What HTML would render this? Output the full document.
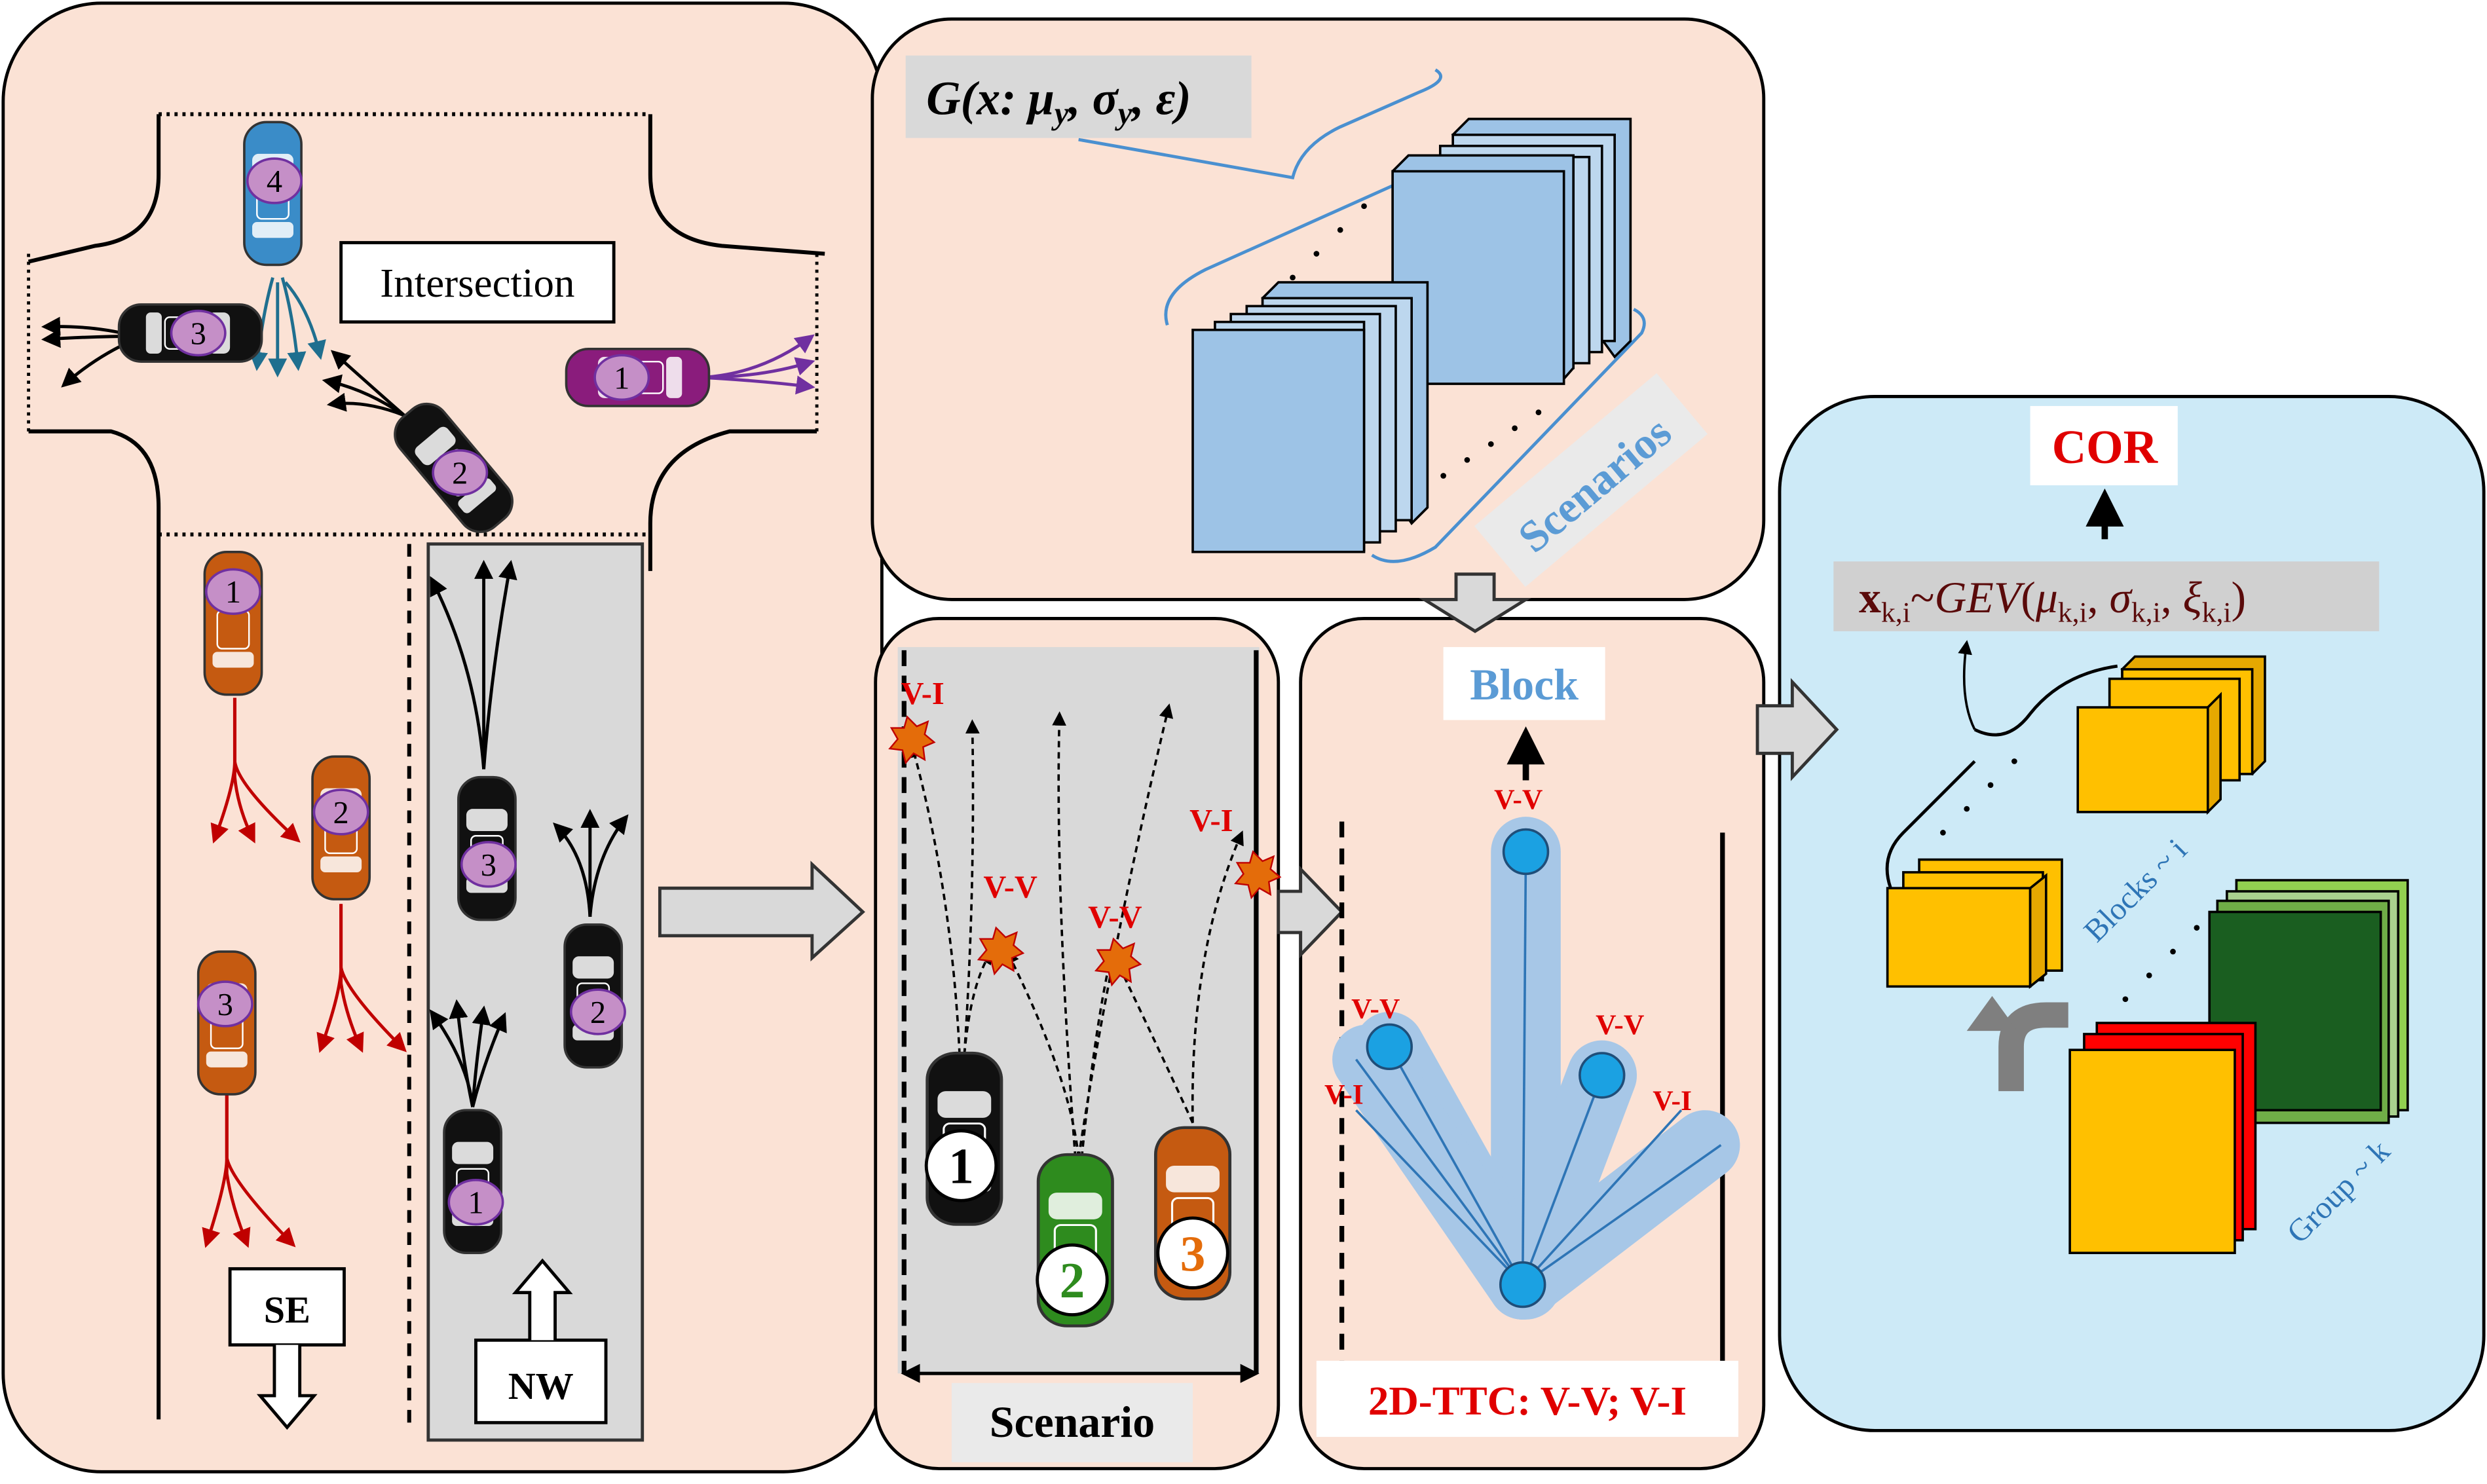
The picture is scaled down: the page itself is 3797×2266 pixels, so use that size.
<!DOCTYPE html>
<html><head><meta charset="utf-8"><style>
html,body{margin:0;padding:0;background:#fff}
svg{display:block}
text{font-family:"Liberation Serif",serif}
</style></head><body>
<svg width="3797" height="2266" viewBox="0 0 1568 935.7" preserveAspectRatio="none" xmlns="http://www.w3.org/2000/svg">
<defs>
<marker id="ab" markerWidth="6" markerHeight="6" refX="5" refY="3" orient="auto"><path d="M0,0L6,3L0,6z" fill="#000"/></marker>
<marker id="ar" markerWidth="6" markerHeight="6" refX="5" refY="3" orient="auto"><path d="M0,0L6,3L0,6z" fill="#c00000"/></marker>
<marker id="at" markerWidth="6" markerHeight="6" refX="5" refY="3" orient="auto"><path d="M0,0L6,3L0,6z" fill="#1f6f8f"/></marker>
<marker id="ap" markerWidth="6" markerHeight="6" refX="5" refY="3" orient="auto"><path d="M0,0L6,3L0,6z" fill="#7030a0"/></marker>
<g id="carv"><rect x="-18" y="-45" width="36" height="90" rx="14" fill="currentColor" stroke="#333" stroke-width="1.5"/><rect x="-13" y="-25" width="26" height="14" rx="4" fill="#fff" opacity=".85"/><rect x="-13" y="18" width="26" height="10" rx="3" fill="#fff" opacity=".85"/><rect x="-10" y="-8" width="20" height="24" rx="3" fill="currentColor" stroke="#fff" stroke-width="1"/></g>
</defs>

<!-- Panels -->
<rect x="2" y="2" width="554" height="926" rx="62" fill="#fbe2d5" stroke="#000" stroke-width="2"/>
<rect x="550" y="12" width="562" height="366" rx="50" fill="#fbe2d5" stroke="#000" stroke-width="2"/>
<rect x="552" y="390" width="254" height="536" rx="40" fill="#fbe2d5" stroke="#000" stroke-width="2"/>
<rect x="820" y="390" width="292" height="536" rx="40" fill="#fbe2d5" stroke="#000" stroke-width="2"/>
<rect x="1122" y="250" width="444" height="652" rx="60" fill="#cdeaf7" stroke="#000" stroke-width="2"/>

<!-- Left panel roads -->
<g stroke="#000" stroke-width="2.5" fill="none">
<path d="M100,72 H410" stroke-dasharray="2,3"/>
<path d="M100,72 V110 Q100,150 60,155 L18,165"/>
<path d="M410,72 V110 Q410,150 455,155 L520,160"/>
<path d="M18,160 V272" stroke-dasharray="2,3" stroke-width="2"/>
<path d="M515,160 V272" stroke-dasharray="2,3" stroke-width="2"/>
<path d="M18,272 H70 Q100,280 100,320 V895"/>
<path d="M515,272 H460 Q410,285 410,330 V360"/>
<path d="M100,337 H410" stroke-dasharray="2,3"/>
<path d="M258,343 V900" stroke-dasharray="8,6"/>
</g>
<rect x="270" y="343" width="135" height="565" fill="#d9d9d9" stroke="#333" stroke-width="2"/>

<rect x="215" y="153" width="172" height="50" fill="#fff" stroke="#000" stroke-width="2"/>
<text x="301" y="187" font-size="26" text-anchor="middle">Intersection</text>

<!-- trajectories -->
<g fill="none" stroke-width="2">
<g stroke="#1f6f8f" marker-end="url(#at)"><path d="M172,175 Q165,200 162,232"/><path d="M175,178 V236"/><path d="M178,175 Q185,200 188,232"/><path d="M180,178 Q195,195 202,225"/></g>
<g stroke="#7030a0" marker-end="url(#ap)"><path d="M442,238 Q480,236 512,212"/><path d="M442,238 Q480,238 512,228"/><path d="M442,238 Q480,240 512,244"/></g>
<g stroke="#000" marker-end="url(#ab)"><path d="M85,212 Q60,205 28,206"/><path d="M85,212 Q60,212 28,214"/><path d="M85,214 Q60,225 40,243"/>
<path d="M255,262 Q230,240 210,222"/><path d="M255,262 Q230,245 205,240"/><path d="M255,262 Q230,252 208,255"/>
<path d="M305,485 Q300,420 272,365"/><path d="M305,485 V355"/><path d="M305,485 Q310,420 322,355"/>
<path d="M372,578 Q370,540 350,520"/><path d="M372,578 V512"/><path d="M372,578 Q375,540 395,515"/>
<path d="M298,698 Q295,670 272,638"/><path d="M298,698 Q292,670 288,632"/><path d="M298,698 Q300,670 305,636"/><path d="M298,698 Q305,670 318,640"/></g>
<g stroke="#c00000" marker-end="url(#ar)"><path d="M148,440 V480 Q148,495 135,530"/><path d="M148,440 V490 Q150,510 160,530"/><path d="M148,440 V480 Q150,495 188,530"/>
<path d="M215,570 V610 Q215,625 202,662"/><path d="M215,570 V620 Q218,640 228,662"/><path d="M215,570 V610 Q218,625 255,662"/>
<path d="M143,690 V730 Q143,745 130,785"/><path d="M143,690 V740 Q146,760 156,785"/><path d="M143,690 V730 Q146,745 185,785"/></g>
</g>

<!-- cars left -->
<g color="#3a8cc8"><use href="#carv" x="172" y="122"/></g>
<g color="#111"><use href="#carv" transform="translate(120,210) rotate(90)"/></g>
<g color="#8a1c7c"><use href="#carv" transform="translate(402,238) rotate(-90)"/></g>
<g color="#111"><use href="#carv" transform="translate(286,295) rotate(-40)"/></g>
<g color="#c55a11"><use href="#carv" x="147" y="393"/><use href="#carv" x="215" y="522"/><use href="#carv" x="143" y="645"/></g>
<g color="#111"><use href="#carv" x="307" y="535"/><use href="#carv" x="374" y="628"/><use href="#carv" x="298" y="745"/></g>
<g fill="#c58fc7" stroke="#7030a0" stroke-width="1.5">
<ellipse cx="173" cy="114" rx="17" ry="14"/><ellipse cx="125" cy="210" rx="17" ry="14"/><ellipse cx="392" cy="238" rx="17" ry="14"/><ellipse cx="290" cy="298" rx="17" ry="14"/>
<ellipse cx="147" cy="373" rx="17" ry="14"/><ellipse cx="215" cy="512" rx="17" ry="14"/><ellipse cx="142" cy="633" rx="17" ry="14"/>
<ellipse cx="308" cy="545" rx="17" ry="14"/><ellipse cx="377" cy="638" rx="17" ry="14"/><ellipse cx="300" cy="758" rx="17" ry="14"/></g>
<g font-size="20" text-anchor="middle" fill="#000">
<text x="173" y="121">4</text><text x="125" y="217">3</text><text x="392" y="245">1</text><text x="290" y="305">2</text>
<text x="147" y="380">1</text><text x="215" y="519">2</text><text x="142" y="640">3</text>
<text x="308" y="552">3</text><text x="377" y="645">2</text><text x="300" y="765">1</text></g>

<rect x="145" y="800" width="72" height="48" fill="#fff" stroke="#000" stroke-width="2"/>
<text x="181" y="834" font-size="24" font-weight="bold" text-anchor="middle">SE</text>
<path d="M173,848 V880 H164 L181,900 L198,880 H189 V848" fill="#fff" stroke="#000" stroke-width="2"/>
<rect x="300" y="845" width="82" height="52" fill="#fff" stroke="#000" stroke-width="2"/>
<text x="341" y="882" font-size="24" font-weight="bold" text-anchor="middle">NW</text>
<path d="M334,845 V815 H325 L342,795 L359,815 H350 V845" fill="#fff" stroke="#000" stroke-width="2"/>

<!-- big arrows -->
<g fill="#d9d9d9" stroke="#333" stroke-width="2">
<path d="M416,560 H512 V545 L544,575 L512,604 V590 H416 Z"/>
<path d="M806,562 H820 V548 L846,575 L820,602 V588 H806 Z"/>
<path d="M1108,445 H1130 V430 L1158,460 L1130,490 V475 H1108 Z"/>
<path d="M918,362 H942 V378 H962 L930,398 L898,378 H918 Z"/>
</g>

<!-- Top middle -->
<rect x="571" y="35" width="218" height="52" fill="#d9d9d9"/>
<text x="584" y="72" font-size="30" font-weight="bold" font-style="italic">G(x: μ<tspan font-size="20" dy="6">y</tspan><tspan dy="-6">, σ</tspan><tspan font-size="20" dy="6">y</tspan><tspan dy="-6">, ε)</tspan></text>
<path d="M680,88 L815,112 Q820,92 845,80 L895,58 Q915,50 905,44" fill="none" stroke="#4a90d0" stroke-width="2"/>
<path d="M736,205 Q730,185 760,170 L905,105" fill="none" stroke="#4a90d0" stroke-width="2"/>
<path d="M865,350 Q880,360 905,345 L1035,210 Q1040,200 1030,195" fill="none" stroke="#4a90d0" stroke-width="2"/>
<g stroke="#000" stroke-width="1.5">
<g fill="#9dc3e6"><path d="M916,85 L926,75 H1028 V215 L1018,225 Z" fill="#9dc3e6"/><rect x="916" y="85" width="102" height="130" fill="#bdd7ee"/>
<rect x="908" y="92" width="102" height="130" fill="#bdd7ee"/><rect x="900" y="99" width="102" height="130" fill="#bdd7ee"/><rect x="890" y="102" width="102" height="130" fill="#bdd7ee"/>
<path d="M878,108 L888,98 H992 V232 L985,240" fill="#9dc3e6"/><rect x="878" y="108" width="108" height="134" fill="#9dc3e6"/></g>
<g><path d="M796,188 L806,178 H900 V320 L890,330 Z" fill="#9dc3e6"/><rect x="796" y="188" width="94" height="140" fill="#bdd7ee"/>
<rect x="786" y="193" width="94" height="142" fill="#bdd7ee"/><rect x="776" y="198" width="94" height="144" fill="#bdd7ee"/><rect x="766" y="203" width="94" height="144" fill="#bdd7ee"/>
<rect x="752" y="208" width="108" height="140" fill="#9dc3e6"/></g>
</g>
<g fill="#000"><circle cx="815" cy="175" r="1.8"/><circle cx="830" cy="160" r="1.8"/><circle cx="845" cy="145" r="1.8"/><circle cx="860" cy="130" r="1.8"/>
<circle cx="910" cy="300" r="1.8"/><circle cx="925" cy="290" r="1.8"/><circle cx="940" cy="280" r="1.8"/><circle cx="955" cy="270" r="1.8"/><circle cx="970" cy="260" r="1.8"/></g>
<g transform="translate(1005,305) rotate(-40)"><rect x="-75" y="-28" width="150" height="50" fill="#eaeaea"/><text x="0" y="10" font-size="28" font-weight="bold" fill="#5b9bd5" text-anchor="middle">Scenarios</text></g>

<!-- Scenario panel -->
<rect x="566" y="408" width="228" height="458" fill="#d9d9d9"/>
<line x1="570" y1="410" x2="570" y2="866" stroke="#000" stroke-width="3" stroke-dasharray="10,6"/>
<line x1="792" y1="410" x2="792" y2="866" stroke="#000" stroke-width="3"/>
<line x1="570" y1="866" x2="792" y2="866" stroke="#000" stroke-width="2" marker-end="url(#ab)"/>
<line x1="792" y1="866" x2="570" y2="866" stroke="#000" stroke-width="2" marker-end="url(#ab)"/>
<g fill="none" stroke="#000" stroke-width="1.5" stroke-dasharray="4,3" marker-end="url(#ab)">
<path d="M605,665 Q600,560 575,470"/><path d="M608,665 Q615,560 613,455"/><path d="M678,730 Q665,560 668,450"/><path d="M680,730 Q700,600 737,445"/><path d="M752,708 Q750,600 783,525"/>
<path d="M608,665 Q612,620 625,600"/><path d="M680,730 Q675,680 635,600"/><path d="M682,730 Q690,650 700,605"/><path d="M752,708 Q730,660 705,608"/></g>
<g fill="#e46c0a" stroke="#c00000" stroke-width="1">
<path d="M572,452 l6,6 7,-3 -2,8 6,5 -7,3 1,8 -7,-4 -5,6 -2,-8 -8,-1 5,-6 -4,-7 8,0z"/>
<path d="M628,585 l6,6 7,-3 -2,8 6,5 -7,3 1,8 -7,-4 -5,6 -2,-8 -8,-1 5,-6 -4,-7 8,0z"/>
<path d="M702,592 l6,6 7,-3 -2,8 6,5 -7,3 1,8 -7,-4 -5,6 -2,-8 -8,-1 5,-6 -4,-7 8,0z"/>
<path d="M790,537 l6,6 7,-3 -2,8 6,5 -7,3 1,8 -7,-4 -5,6 -2,-8 -8,-1 5,-6 -4,-7 8,0z"/></g>
<g font-size="20" font-weight="bold" fill="#e00000"><text x="568" y="444">V-I</text><text x="620" y="566">V-V</text><text x="686" y="585">V-V</text><text x="750" y="524">V-I</text></g>
<g color="#111"><use href="#carv" transform="translate(608,718) scale(1.3,1.2)"/></g>
<g color="#2e8b1e"><use href="#carv" transform="translate(678,782) scale(1.3,1.2)"/></g>
<g color="#c55a11"><use href="#carv" transform="translate(752,765) scale(1.3,1.2)"/></g>
<g stroke="#000" stroke-width="2" fill="#fff"><circle cx="606" cy="735" r="22"/><circle cx="676" cy="807" r="22"/><circle cx="752" cy="790" r="22"/></g>
<g font-size="32" font-weight="bold" text-anchor="middle"><text x="606" y="746" fill="#000">1</text><text x="676" y="818" fill="#2e8b1e">2</text><text x="752" y="801" fill="#e46c0a">3</text></g>
<rect x="600" y="872" width="152" height="50" fill="#eaeaea"/>
<text x="676" y="906" font-size="28" font-weight="bold" text-anchor="middle">Scenario</text>

<!-- Block panel -->
<rect x="910" y="408" width="102" height="46" fill="#fff"/>
<text x="961" y="441" font-size="28" font-weight="bold" fill="#5b9bd5" text-anchor="middle">Block</text>
<line x1="962" y1="492" x2="962" y2="462" stroke="#000" stroke-width="4" marker-end="url(#ab)"/>
<line x1="846" y1="518" x2="846" y2="900" stroke="#000" stroke-width="3" stroke-dasharray="10,7"/>
<line x1="1086" y1="525" x2="1086" y2="900" stroke="#000" stroke-width="3"/>
<g stroke="#a7c7e7" stroke-width="44" stroke-linecap="round" fill="none"><path d="M962,537 V810"/><path d="M876,660 L960,810"/><path d="M1010,678 L960,810"/><path d="M1075,722 L960,810"/><path d="M862,668 L960,810"/></g>
<g stroke="#2e75b6" stroke-width="1.5"><line x1="960" y1="810" x2="962" y2="537"/><line x1="960" y1="810" x2="876" y2="660"/><line x1="960" y1="810" x2="1010" y2="678"/><line x1="960" y1="810" x2="1085" y2="722"/><line x1="960" y1="810" x2="855" y2="700"/><line x1="960" y1="810" x2="855" y2="668"/><line x1="960" y1="810" x2="1060" y2="700"/></g>
<g fill="#1ba1e2" stroke="#1f4e79" stroke-width="1.5"><circle cx="962" cy="537" r="14"/><circle cx="876" cy="660" r="14"/><circle cx="1010" cy="678" r="14"/><circle cx="960" cy="810" r="14"/></g>
<g font-size="18" font-weight="bold" fill="#e00000"><text x="942" y="510">V-V</text><text x="852" y="642">V-V</text><text x="835" y="696">V-I</text><text x="1006" y="652">V-V</text><text x="1042" y="700">V-I</text></g>
<rect x="830" y="858" width="266" height="48" fill="#fff"/>
<text x="963" y="892" font-size="26" font-weight="bold" fill="#e00000" text-anchor="middle">2D-TTC: V-V; V-I</text>

<!-- Right panel -->
<rect x="1280" y="256" width="93" height="50" fill="#fff"/>
<text x="1327" y="292" font-size="30" font-weight="bold" fill="#e00000" text-anchor="middle">COR</text>
<line x1="1327" y1="340" x2="1327" y2="312" stroke="#000" stroke-width="4" marker-end="url(#ab)"/>
<rect x="1156" y="354" width="344" height="44" fill="#d0d0d0"/>
<text x="1172" y="386" font-size="28" fill="#5a0a0a"><tspan font-weight="bold">x</tspan><tspan font-size="18" dy="6">k,i</tspan><tspan dy="-6">~</tspan><tspan font-style="italic">GEV</tspan>(<tspan font-style="italic">μ</tspan><tspan font-size="18" dy="6">k,i</tspan><tspan dy="-6">, </tspan><tspan font-style="italic">σ</tspan><tspan font-size="18" dy="6">k,i</tspan><tspan dy="-6">, </tspan><tspan font-style="italic">ξ</tspan><tspan font-size="18" dy="6">k,i</tspan><tspan dy="-6">)</tspan></text>
<path d="M1245,460 Q1235,440 1240,405" fill="none" stroke="#000" stroke-width="1.5" marker-end="url(#ab)"/>
<path d="M1245,460 Q1265,470 1280,450 Q1300,425 1335,420" fill="none" stroke="#000" stroke-width="2"/>
<path d="M1192,560 Q1185,540 1200,525 L1245,480" fill="none" stroke="#000" stroke-width="2"/>
<g stroke="#000" stroke-width="1.5">
<g fill="#ffc000"><rect x="1338" y="422" width="82" height="66"/><path d="M1338,422 l8,-8 h82 v66 l-8,8z" fill="#e6a800"/><rect x="1338" y="422" width="82" height="66"/><rect x="1330" y="428" width="82" height="64"/>
<rect x="1310" y="446" width="82" height="66"/><path d="M1392,446 l8,-8 v66 l-8,8z" fill="#e6a800"/>
<rect x="1210" y="542" width="90" height="70"/><rect x="1200" y="550" width="88" height="68"/><rect x="1190" y="560" width="90" height="62"/><path d="M1280,560 l10,-8 v62 l-10,8z" fill="#e6a800"/></g>
<rect x="1410" y="555" width="108" height="145" fill="#92d050"/><rect x="1404" y="562" width="108" height="142" fill="#a9d18e"/><rect x="1398" y="568" width="108" height="140" fill="#70ad47"/>
<rect x="1393" y="575" width="108" height="125" fill="#1a5e20"/>
<rect x="1322" y="645" width="100" height="130" fill="#ff0000"/><rect x="1314" y="652" width="100" height="130" fill="#ff0000"/>
<rect x="1305" y="662" width="104" height="128" fill="#ffc000"/></g>
<g fill="#000"><circle cx="1225" cy="525" r="1.8"/><circle cx="1240" cy="510" r="1.8"/><circle cx="1255" cy="495" r="1.8"/><circle cx="1270" cy="480" r="1.8"/>
<circle cx="1340" cy="630" r="1.8"/><circle cx="1355" cy="615" r="1.8"/><circle cx="1370" cy="600" r="1.8"/><circle cx="1385" cy="585" r="1.8"/></g>
<path d="M1268,688 V660 Q1268,640 1290,640 H1304" fill="none" stroke="#7f7f7f" stroke-width="16"/>
<path d="M1240,650 L1256,628 L1272,650z" fill="#7f7f7f"/>
<text transform="translate(1322,595) rotate(-45)" font-size="20" fill="#2e75b6">Blocks ~ i</text>
<text transform="translate(1450,785) rotate(-45)" font-size="20" fill="#2e75b6">Group ~ k</text>
</svg>
</body></html>
